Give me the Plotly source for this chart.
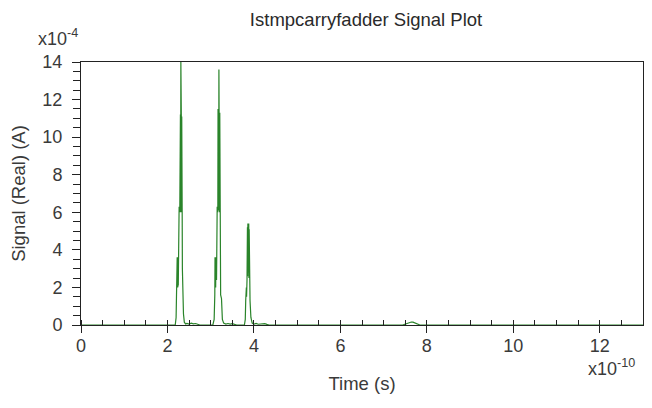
import plotly.graph_objects as go

# Time in units of 1e-10 s, signal in units of 1e-4 A
time_e10 = [
    0.0, 2.18, 2.20, 2.215, 2.225, 2.23, 2.235, 2.24, 2.245, 2.25, 2.255, 2.26, 2.265, 2.27,
    2.28, 2.285, 2.29, 2.295, 2.30, 2.305, 2.31, 2.315, 2.32, 2.325, 2.33, 2.335, 2.34,
    2.345, 2.35, 2.36, 2.37, 2.39, 2.42, 2.45, 2.50, 2.55, 2.60, 2.65, 2.70, 2.75,
    3.05, 3.08, 3.095, 3.10, 3.105, 3.11, 3.115, 3.12, 3.125, 3.13, 3.135, 3.14, 3.15,
    3.16, 3.165, 3.17, 3.175, 3.18, 3.185, 3.19, 3.195, 3.20, 3.205, 3.21, 3.215, 3.22,
    3.23, 3.25, 3.27, 3.30, 3.35, 3.40, 3.45, 3.50, 3.55, 3.60,
    3.78, 3.80, 3.81, 3.815, 3.82, 3.825, 3.83, 3.84, 3.85, 3.855, 3.86, 3.865, 3.87,
    3.875, 3.88, 3.885, 3.89, 3.90, 3.91, 3.93, 3.96, 4.00, 4.05, 4.10, 4.15, 4.20,
    4.25, 4.30, 4.35,
    7.44, 7.48, 7.52, 7.56, 7.60, 7.64, 7.68, 7.72, 7.76, 7.80, 7.84,
    13.0,
]
signal_e4 = [
    0.0, 0.0, 0.4, 1.8, 3.6, 2.2, 3.5, 2.0, 3.6, 2.1, 3.4, 2.4, 3.6, 6.3,
    6.2, 6.0, 11.1, 6.2, 11.2, 6.0, 14.0, 6.1, 11.2, 6.0, 11.1, 6.3, 6.2,
    3.0, 1.6, 1.5, 0.6, 0.15, 0.05, 0.08, 0.05, 0.1, 0.06, 0.08, 0.04, 0.0,
    0.0, 0.3, 1.6, 3.6, 2.1, 3.5, 2.0, 3.6, 2.2, 3.5, 2.4, 3.6, 6.3,
    6.2, 6.0, 11.5, 6.3, 11.4, 6.1, 13.6, 6.2, 11.5, 6.0, 11.3, 6.3, 3.2,
    1.6, 1.4, 0.3, 0.1, 0.05, 0.08, 0.05, 0.07, 0.04, 0.0,
    0.0, 0.3, 1.3, 2.0, 1.4, 2.0, 1.5, 2.4, 5.2, 2.6, 5.4, 2.8, 5.3,
    2.6, 5.4, 2.5, 5.1, 2.0, 1.3, 0.4, 0.1, 0.05, 0.08, 0.04, 0.06, 0.05,
    0.07, 0.03, 0.0,
    0.0, 0.03, 0.06, 0.12, 0.15, 0.16, 0.15, 0.12, 0.06, 0.02, 0.0,
    0.0,
]

x_ticks = [0, 2, 4, 6, 8, 10, 12]
x_labels = ["0", "2", "4", "6", "8", "10", "12"]
y_ticks = [0, 2, 4, 6, 8, 10, 12, 14]

line_color = "#2a842a"
font_family = "Liberation Sans, Arial, sans-serif"
text_color = "#3a3a3a"

fig = go.Figure()
fig.add_trace(go.Scatter(
    x=time_e10, y=signal_e4, mode="lines",
    line=dict(color=line_color, width=1.2),
    hoverinfo="skip", showlegend=False,
))

fig.update_layout(
    width=644, height=400,
    margin=dict(l=73, r=9, t=54, b=83),
    paper_bgcolor="white", plot_bgcolor="white",
    font=dict(family=font_family, color=text_color, size=18),
    title=dict(text="Istmpcarryfadder Signal Plot", x=0.556, xanchor="center",
               y=0.972, yanchor="middle", font=dict(size=18.5, color="#2a2a2a")),
    xaxis=dict(
        range=[0, 13], tickvals=x_ticks, ticktext=x_labels, automargin=False,
        ticks="outside", ticklen=7, tickcolor="#222", tickwidth=1,
        ticklabelstandoff=-3,
        minor=dict(dtick=0.5, ticks="inside", ticklen=5, tickcolor="#222"),
        showgrid=False, zeroline=False,
        showline=True, linecolor="#222", linewidth=1, mirror=True,
        tickfont=dict(size=18),
        title=dict(text="Time (s)", font=dict(size=18.5), standoff=22),
    ),
    yaxis=dict(
        range=[0, 14], tickvals=y_ticks, automargin=False,
        ticks="outside", ticklen=8, tickcolor="#222", tickwidth=1,
        ticklabelstandoff=6,
        minor=dict(dtick=0.5, ticks="outside", ticklen=7, tickcolor="#222"),
        showgrid=False, zeroline=False,
        showline=True, linecolor="#222", linewidth=1, mirror=True,
        tickfont=dict(size=18),
        title=dict(text="Signal (Real) (A)", font=dict(size=18.5), standoff=12),
    ),
)

fig.add_annotation(text="x10<sup>-4</sup>", xref="paper", yref="paper",
                   x=-0.08, y=1.04, xanchor="left", yanchor="bottom",
                   showarrow=False, font=dict(size=18))
fig.add_annotation(text="x10<sup>-10</sup>", xref="paper", yref="paper",
                   x=0.989, y=-0.11, xanchor="right", yanchor="top",
                   showarrow=False, font=dict(size=18))

fig.write_html("out.html")
